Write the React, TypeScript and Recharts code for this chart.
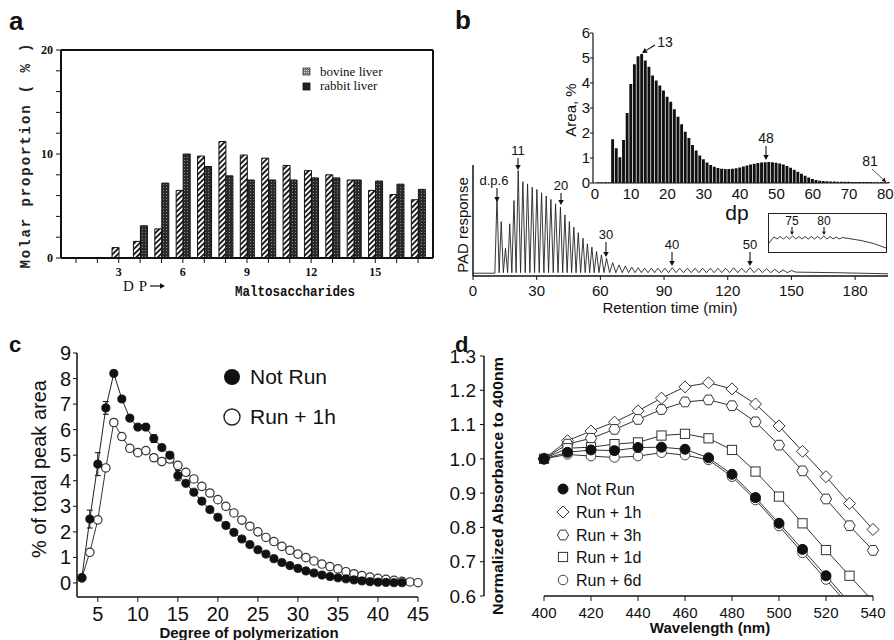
import React from 'react';
import { BarChart, Bar, LineChart, Line, XAxis, YAxis, ErrorBar, ReferenceLine } from 'recharts';

const SANS = '"Liberation Sans", Arial, Helvetica, sans-serif';
const SERIF = '"Liberation Serif", "Times New Roman", serif';
const MONO = '"Liberation Mono", "Courier New", monospace';
const INK = '#111';

// a: molar proportion of maltosaccharides
const dpA = [1, 2, 3, 4, 5, 6, 7, 8, 9, 10, 11, 12, 13, 14, 15, 16, 17];
const bovineLiver = [0, 0, 1.0, 1.6, 2.8, 6.5, 9.8, 11.2, 9.9, 9.6, 8.9, 8.4, 8.0, 7.5, 6.5, 6.1, 5.6];
const rabbitLiver = [0, 0, 0, 3.1, 7.2, 10.0, 8.8, 7.9, 7.5, 7.5, 7.5, 7.7, 7.7, 7.5, 7.4, 7.1, 6.6];
const molarTicks = [0, 2, 4, 6, 8, 10, 12, 14, 16, 18, 20];

// b: HPAEC-PAD trace (dp 6..55), retention times in min, response in arbitrary units
const padTime = [
  11.3, 13.3, 15.3, 17.3, 19.3, 21.3, 23.5, 25.7, 27.9, 30.1,
  32.3, 34.5, 36.7, 38.9, 41.2, 43.3, 45.4, 47.5, 49.6, 51.8,
  53.9, 56.0, 58.2, 60.5, 62.9, 65.8, 68.8, 71.8, 74.8, 77.8,
  80.9, 84.0, 87.1, 90.4, 93.9, 97.4, 101.0, 104.6, 108.2, 111.8,
  115.4, 119.0, 122.8, 126.6, 130.5, 134.4, 138.3, 142.2, 146.1, 150.0,
];
const padHeight = [
  71, 49, 25, 47, 68, 95, 85, 83, 80, 78,
  75, 72, 69, 65, 62, 55, 49, 44, 39, 34,
  29, 26, 22, 19, 16, 12, 10, 9, 8, 7.5,
  7, 7, 7, 7, 7.5, 7, 7, 7, 7, 7,
  7, 7, 7.5, 7, 7.5, 7, 6.5, 6, 5.5, 5,
];
const padBase = 3;
const padLeadTime = [0, 10.3];
const padLeadLevel = [2.5, 2.5];
const padTailTime = [152, 170, 195.5];
const padTailLevel = [3.5, 3, 2];
const timeTicks = [0, 30, 60, 90, 120, 150, 180];

// b inset: area % per dp (dp 1..81)
const areaPct = [
  0.03, 0.03, 0.03, 0.03, 1.75, 1.39, 1.03, 1.72, 2.8, 3.96,
  4.75, 5.07, 5.16, 4.9, 4.65, 4.3, 4.1, 3.9, 3.7, 3.45,
  3.25, 2.95, 2.65, 2.35, 2.05, 1.8, 1.52, 1.3, 1.1, 0.95,
  0.82, 0.72, 0.65, 0.6, 0.57, 0.56, 0.56, 0.57, 0.59, 0.62,
  0.66, 0.7, 0.74, 0.77, 0.8, 0.82, 0.83, 0.84, 0.83, 0.81,
  0.78, 0.74, 0.68, 0.61, 0.53, 0.45, 0.37, 0.29, 0.22, 0.16,
  0.12, 0.09, 0.08, 0.07, 0.06, 0.06, 0.05, 0.05, 0.05, 0.05,
  0.04, 0.04, 0.04, 0.04, 0.04, 0.04, 0.03, 0.03, 0.03, 0.03,
  0.03,
];
const dpTicksB = [0, 10, 20, 30, 40, 50, 60, 70, 80];
const areaTicks = [0, 1, 2, 3, 4, 5, 6];

// b small box: trace around dp 75-80
const zoomLeadDp = [71.2, 71.6];
const zoomLead = [10, 13];
const zoomPeakDp = [72, 73, 74, 75, 76, 77, 78, 79, 80, 81, 82, 83];
const zoomPeak = [16, 16.5, 16.5, 17, 16.5, 16.5, 16.5, 16.5, 17, 16.5, 16, 15.5];
const zoomValley = 14;
const zoomTailDp = [84, 86, 88, 90];
const zoomTail = [14.5, 12.5, 9.5, 5];

// c: % of total peak area vs degree of polymerization (dp 3..45)
const dpC = [
  3, 4, 5, 6, 7, 8, 9, 10, 11, 12, 13, 14, 15, 16, 17, 18, 19, 20, 21, 22, 23, 24,
  25, 26, 27, 28, 29, 30, 31, 32, 33, 34, 35, 36, 37, 38, 39, 40, 41, 42, 43, 44, 45,
];
const notRunC = [
  0.2, 2.5, 4.65, 6.85, 8.2, 7.2, 6.45, 6.1, 6.1, 5.65, 5.3, 5.0, 4.2, 3.9, 3.55, 3.2,
  2.87, 2.57, 2.25, 1.98, 1.72, 1.5, 1.3, 1.13, 0.95, 0.8, 0.68, 0.57, 0.47, 0.39, 0.31,
  0.25, 0.2, 0.16, 0.12, 0.08, 0.05, 0.03, 0.02, 0.01, 0.01, null, null,
];
const notRunErr = [
  0, 0.35, 0.45, 0.25, 0.06, 0.06, 0, 0.1, 0.12, 0.15, 0.08, 0.05, 0.2, 0.08, 0, 0,
  0, 0, 0, 0, 0, 0, 0, 0, 0, 0, 0, 0, 0, 0, 0, 0, 0, 0, 0, 0, 0, 0, 0, 0, 0, 0, 0,
];
const run1hC = [
  0.2, 1.2, 2.47, 4.5, 6.28, 5.73, 5.27, 5.1, 5.18, 4.9, 4.75, 4.85, 4.6, 4.33, 4.07,
  3.78, 3.52, 3.26, 3.0, 2.74, 2.46, 2.22, 2.0, 1.78, 1.62, 1.43, 1.28, 1.13, 0.99,
  0.86, 0.74, 0.64, 0.55, 0.44, 0.36, 0.29, 0.23, 0.18, 0.14, 0.1, 0.06, 0.04, 0.01,
];
const dpTicksC = [5, 10, 15, 20, 25, 30, 35, 40, 45];
const pctTicks = [0, 1, 2, 3, 4, 5, 6, 7, 8, 9];

// d: absorbance normalized to 400 nm
const wavelength = [400, 410, 420, 430, 440, 450, 460, 470, 480, 490, 500, 510, 520, 530, 540];
const notRunD = [1.0, 1.019, 1.026, 1.024, 1.033, 1.034, 1.028, 1.003, 0.955, 0.887, 0.812, 0.736, 0.659, 0.58, null];
const run1hD = [1.0, 1.053, 1.081, 1.107, 1.14, 1.177, 1.21, 1.222, 1.204, 1.16, 1.096, 1.022, 0.948, 0.87, 0.794];
const run3hD = [1.0, 1.043, 1.06, 1.086, 1.115, 1.144, 1.166, 1.172, 1.155, 1.108, 1.04, 0.965, 0.883, 0.805, 0.733];
const run1dD = [1.0, 1.031, 1.034, 1.043, 1.048, 1.068, 1.073, 1.06, 1.026, 0.963, 0.89, 0.812, 0.734, 0.659, 0.585];
const run6dD = [1.0, 1.013, 1.008, 1.004, 1.008, 1.018, 1.011, 0.997, 0.948, 0.88, 0.804, 0.726, 0.648, 0.57, null];
const wlTicks = [400, 420, 440, 460, 480, 500, 520, 540];
const absTicks = [0.6, 0.7, 0.8, 0.9, 1.0, 1.1, 1.2, 1.3];

const hex = (x: number, y: number, r: number) =>
  [0, 60, 120, 180, 240, 300]
    .map((a) => `${x + r * Math.cos((a * Math.PI) / 180)},${y + r * Math.sin((a * Math.PI) / 180)}`)
    .join(' ');

const markD: Record<string, (x: number, y: number) => React.ReactElement> = {
  notRun: (x, y) => <circle cx={x} cy={y} r={5} fill={INK} stroke={INK} strokeWidth={1} />,
  run1h: (x, y) => (
    <polygon points={`${x},${y - 6} ${x + 6},${y} ${x},${y + 6} ${x - 6},${y}`} fill="#fff" stroke="#333" strokeWidth={1} />
  ),
  run3h: (x, y) => <polygon points={hex(x, y, 5.6)} fill="#fff" stroke="#333" strokeWidth={1} />,
  run1d: (x, y) => <rect x={x - 4.6} y={y - 4.6} width={9.2} height={9.2} fill="#fff" stroke="#333" strokeWidth={1} />,
  run6d: (x, y) => <circle cx={x} cy={y} r={4.8} fill="#fff" stroke="#444" strokeWidth={1} />,
};

const markC: Record<string, (x: number, y: number) => React.ReactElement> = {
  notRun: (x, y) => <circle cx={x} cy={y} r={4.1} fill={INK} stroke={INK} strokeWidth={0.8} />,
  run1h: (x, y) => <circle cx={x} cy={y} r={4.2} fill="#fff" stroke="#333" strokeWidth={1.2} />,
};

const dotFrom = (draw: (x: number, y: number) => React.ReactElement) => (p: any) => {
  const { cx, cy, index } = p;
  if (cx == null || cy == null || !Number.isFinite(cx) || !Number.isFinite(cy)) return <g key={`e${index}`} />;
  return <g key={`m${index}`}>{draw(cx, cy)}</g>;
};

function Patterns() {
  return (
    <svg width={0} height={0} style={{ position: 'absolute' }}>
      <defs>
        <pattern id="hatch" width={3.8} height={3.8} patternUnits="userSpaceOnUse" patternTransform="rotate(45)">
          <rect width={3.8} height={3.8} fill="#fff" />
          <rect width={1.8} height={3.8} fill="#111" />
        </pattern>
        <pattern id="stipple" width={3} height={3} patternUnits="userSpaceOnUse">
          <rect width={3} height={3} fill="#2a2a2a" />
          <rect x={1} y={1} width={1} height={1} fill="#888" />
        </pattern>
        <pattern id="stippleLight" width={2} height={2} patternUnits="userSpaceOnUse">
          <rect width={2} height={2} fill="#777" />
          <rect width={1} height={1} fill="#ddd" />
        </pattern>
      </defs>
    </svg>
  );
}

function PanelA() {
  const rows = dpA.map((dp, i) => ({ dp, bovine: bovineLiver[i], rabbit: rabbitLiver[i] }));
  const tick = { fill: INK, fontSize: 12, fontFamily: SERIF, fontWeight: 700 };
  return (
    <div style={{ position: 'absolute', left: 0, top: 0 }}>
      <BarChart width={450} height={320} data={rows} margin={{ top: 50, right: 17, bottom: 32, left: 10 }} barGap={0}>
        <XAxis
          dataKey="dp"
          type="number"
          domain={[0.3, 17.7]}
          ticks={dpA}
          interval={0}
          tickFormatter={(v) => (v % 3 === 0 ? String(v) : '')}
          height={30}
          tickSize={5}
          tickMargin={4}
          tick={tick}
          axisLine={{ stroke: INK, strokeWidth: 2 }}
          tickLine={{ stroke: INK }}
        />
        <YAxis
          type="number"
          domain={[0, 20]}
          ticks={molarTicks}
          interval={0}
          tickFormatter={(v) => (v % 10 === 0 ? String(v) : '')}
          width={51}
          tickSize={5}
          tickMargin={3}
          tick={tick}
          axisLine={{ stroke: INK, strokeWidth: 2 }}
          tickLine={{ stroke: INK }}
        />
        <ReferenceLine y={20} stroke={INK} strokeWidth={2} />
        <ReferenceLine x={17.7} stroke={INK} strokeWidth={2} />
        <Bar dataKey="bovine" fill="url(#hatch)" stroke={INK} strokeWidth={1} barSize={7} isAnimationActive={false} />
        <Bar dataKey="rabbit" fill="url(#stipple)" stroke={INK} strokeWidth={1} barSize={7} isAnimationActive={false} />
      </BarChart>
    </div>
  );
}

function PanelBMain() {
  const rows: { t: number; v: number }[] = [];
  padLeadTime.forEach((t, i) => rows.push({ t, v: padLeadLevel[i] }));
  padTime.forEach((t, i) => {
    rows.push({ t, v: padHeight[i] });
    if (i < padTime.length - 1) rows.push({ t: (t + padTime[i + 1]) / 2, v: padBase });
  });
  padTailTime.forEach((t, i) => rows.push({ t, v: padTailLevel[i] }));
  return (
    <div style={{ position: 'absolute', left: 440, top: 150 }}>
      <LineChart width={454} height={170} data={rows} margin={{ top: 15, right: 6, bottom: 0, left: 0 }}>
        <XAxis
          dataKey="t"
          type="number"
          domain={[0, 195.5]}
          ticks={timeTicks}
          interval={0}
          height={44}
          tickSize={4}
          tickMargin={5}
          tick={{ fill: INK, fontSize: 15, fontFamily: SANS }}
          axisLine={{ stroke: INK, strokeWidth: 1.5 }}
          tickLine={{ stroke: INK }}
        />
        <YAxis type="number" domain={[0, 100]} width={33} tick={false} tickLine={false} axisLine={{ stroke: INK, strokeWidth: 1.5 }} />
        <Line type="linear" dataKey="v" stroke="#222" strokeWidth={0.9} dot={false} activeDot={false} isAnimationActive={false} />
      </LineChart>
    </div>
  );
}

function PanelBInset() {
  const rows = areaPct.map((area, i) => ({ dp: i + 1, area }));
  return (
    <div style={{ position: 'absolute', left: 540, top: 25 }}>
      <BarChart width={354} height={190} data={rows} margin={{ top: 8, right: 5, bottom: 0, left: 23 }}>
        <XAxis
          dataKey="dp"
          type="number"
          domain={[-0.5, 81]}
          ticks={dpTicksB}
          interval={0}
          height={32}
          tickSize={0}
          tickMargin={5}
          tickLine={false}
          tick={{ fill: INK, fontSize: 15, fontFamily: SANS }}
          axisLine={{ stroke: INK, strokeWidth: 1.2 }}
        />
        <YAxis
          type="number"
          domain={[0, 6]}
          ticks={areaTicks}
          interval={0}
          width={30}
          tickSize={3}
          tickMargin={0}
          tick={{ fill: INK, fontSize: 15, fontFamily: SANS }}
          axisLine={{ stroke: INK, strokeWidth: 1.2 }}
          tickLine={{ stroke: INK }}
        />
        <Bar dataKey="area" fill={INK} barSize={2.9} isAnimationActive={false} />
      </BarChart>
    </div>
  );
}

function PanelBZoom() {
  const rows: { dp: number; v: number }[] = [];
  zoomLeadDp.forEach((dp, i) => rows.push({ dp, v: zoomLead[i] }));
  zoomPeakDp.forEach((dp, i) => {
    rows.push({ dp, v: zoomPeak[i] });
    if (i < zoomPeakDp.length - 1) rows.push({ dp: dp + 0.5, v: zoomValley });
  });
  zoomTailDp.forEach((dp, i) => rows.push({ dp, v: zoomTail[i] }));
  return (
    <div style={{ position: 'absolute', left: 768, top: 213, width: 119, height: 40, border: '1px solid #222', boxSizing: 'border-box' }}>
      <LineChart width={117} height={38} data={rows} margin={{ top: 0, right: 0, bottom: 0, left: 0 }}>
        <XAxis dataKey="dp" type="number" domain={[71.2, 90]} hide />
        <YAxis type="number" domain={[1, 39]} hide />
        <Line type="linear" dataKey="v" stroke="#222" strokeWidth={0.9} dot={false} activeDot={false} isAnimationActive={false} />
      </LineChart>
    </div>
  );
}

function PanelC() {
  const rows = dpC.map((dp, i) => ({
    dp,
    notRun: notRunC[i],
    err: notRunErr[i] || undefined,
    run1h: run1hC[i],
  }));
  return (
    <div style={{ position: 'absolute', left: 0, top: 320 }}>
      <LineChart width={450} height={320} data={rows} margin={{ top: 33, right: 32, bottom: 0, left: 0 }}>
        <XAxis
          dataKey="dp"
          type="number"
          domain={[2.4, 45]}
          ticks={dpTicksC}
          interval={0}
          height={43}
          tickSize={5}
          tickMargin={5}
          tick={{ fill: INK, fontSize: 20, fontFamily: SANS }}
          axisLine={{ stroke: INK, strokeWidth: 1.5 }}
          tickLine={{ stroke: INK }}
        />
        <YAxis
          type="number"
          domain={[-0.55, 9]}
          ticks={pctTicks}
          interval={0}
          width={77}
          tickSize={4}
          tickMargin={2}
          tick={{ fill: INK, fontSize: 20, fontFamily: SANS }}
          axisLine={{ stroke: INK, strokeWidth: 1.5 }}
          tickLine={{ stroke: INK }}
        />
        <Line
          type="linear"
          dataKey="run1h"
          stroke="#333"
          strokeWidth={1}
          dot={dotFrom(markC.run1h)}
          activeDot={false}
          isAnimationActive={false}
        />
        <Line
          type="linear"
          dataKey="notRun"
          stroke="#222"
          strokeWidth={1}
          dot={dotFrom(markC.notRun)}
          activeDot={false}
          isAnimationActive={false}
        >
          <ErrorBar dataKey="err" direction="y" width={3} stroke={INK} strokeWidth={1} />
        </Line>
      </LineChart>
    </div>
  );
}

const inPlot = (v: number | null) => (v != null && v >= 0.6 ? v : null);

function PanelD() {
  const rows = wavelength.map((w, i) => ({
    w,
    notRun: notRunD[i],
    run1h: run1hD[i],
    run3h: run3hD[i],
    run1d: run1dD[i],
    run6d: run6dD[i],
    notRunDot: inPlot(notRunD[i]),
    run1hDot: inPlot(run1hD[i]),
    run3hDot: inPlot(run3hD[i]),
    run1dDot: inPlot(run1dD[i]),
    run6dDot: inPlot(run6dD[i]),
  }));
  const order = ['run1h', 'run3h', 'run1d', 'run6d', 'notRun'];
  return (
    <div style={{ position: 'absolute', left: 450, top: 320 }}>
      <LineChart width={444} height={320} data={rows} margin={{ top: 36, right: 21, bottom: 0, left: 29 }}>
        <XAxis
          dataKey="w"
          type="number"
          domain={[400, 540]}
          ticks={wlTicks}
          interval={0}
          height={44}
          tickSize={5}
          tickMargin={6}
          tick={{ fill: INK, fontSize: 15, fontFamily: SANS }}
          axisLine={{ stroke: INK, strokeWidth: 1.5 }}
          tickLine={{ stroke: INK }}
        />
        <YAxis
          yAxisId="main"
          type="number"
          domain={[0.6, 1.3]}
          allowDataOverflow
          ticks={absTicks}
          interval={0}
          tickFormatter={(v) => Number(v).toFixed(1)}
          width={65}
          tickSize={4}
          tickMargin={4}
          tick={{ fill: INK, fontSize: 19, fontFamily: SANS }}
          axisLine={{ stroke: INK, strokeWidth: 1.5 }}
          tickLine={{ stroke: INK }}
        />
        <YAxis yAxisId="dots" type="number" domain={[0.6, 1.3]} hide />
        {order.map((k) => (
          <Line
            key={k}
            yAxisId="main"
            type="linear"
            dataKey={k}
            stroke="#333"
            strokeWidth={1}
            dot={false}
            activeDot={false}
            isAnimationActive={false}
          />
        ))}
        {order.map((k) => (
          <Line
            key={`${k}Dot`}
            yAxisId="dots"
            type="linear"
            dataKey={`${k}Dot`}
            stroke="none"
            dot={dotFrom(markD[k])}
            activeDot={false}
            isAnimationActive={false}
          />
        ))}
      </LineChart>
    </div>
  );
}

function Arrow({ x1, y1, x2, y2, w = 1.1, head = 5 }: { x1: number; y1: number; x2: number; y2: number; w?: number; head?: number }) {
  const a = Math.atan2(y2 - y1, x2 - x1);
  const bx = x2 - head * Math.cos(a);
  const by = y2 - head * Math.sin(a);
  const px = (head * 0.55) * Math.sin(a);
  const py = (head * 0.55) * Math.cos(a);
  return (
    <g>
      <line x1={x1} y1={y1} x2={bx} y2={by} stroke={INK} strokeWidth={w} />
      <polygon points={`${x2},${y2} ${bx + px},${by - py} ${bx - px},${by + py}`} fill={INK} />
    </g>
  );
}

function Overlay() {
  const legendD = [
    { k: 'notRun', label: 'Not Run', y: 489 },
    { k: 'run1h', label: 'Run + 1h', y: 512 },
    { k: 'run3h', label: 'Run + 3h', y: 535 },
    { k: 'run1d', label: 'Run + 1d', y: 557 },
    { k: 'run6d', label: 'Run + 6d', y: 580 },
  ];
  return (
    <svg width={894} height={640} style={{ position: 'absolute', left: 0, top: 0, pointerEvents: 'none' }} fill={INK}>
      {/* panel letters */}
      <text x={9} y={30} fontFamily={SANS} fontWeight={700} fontSize={26}>a</text>
      <text x={455} y={29} fontFamily={SANS} fontWeight={700} fontSize={26}>b</text>
      <text x={9} y={352} fontFamily={SANS} fontWeight={700} fontSize={22}>c</text>
      <text x={455} y={352} fontFamily={SANS} fontWeight={700} fontSize={22}>d</text>

      {/* a */}
      <text transform="translate(30,156) rotate(-90)" textAnchor="middle" fontFamily={MONO} fontWeight={700} fontSize={14} textLength={225} lengthAdjust="spacing" fill="#222">
        Molar proportion ( % )
      </text>
      <text x={123} y={291} fontFamily={SERIF} fontSize={15} textLength={24} lengthAdjust="spacing">DP</text>
      <Arrow x1={150} y1={286} x2={165} y2={286} w={1.2} head={5} />
      <text x={235} y={296} fontFamily={MONO} fontWeight={700} fontSize={14} textLength={120} lengthAdjust="spacingAndGlyphs">
        Maltosaccharides
      </text>
      <rect x={303} y={68} width={7} height={7} fill="url(#stippleLight)" stroke="#333" strokeWidth={0.8} />
      <rect x={303} y={83} width={7} height={7} fill="#222" stroke="#111" strokeWidth={0.8} />
      <text x={320} y={76} fontFamily={SERIF} fontSize={13}>bovine liver</text>
      <text x={320} y={90} fontFamily={SERIF} fontSize={13}>rabbit liver</text>

      {/* b inset labels */}
      <text transform="translate(576,110) rotate(-90)" textAnchor="middle" fontFamily={SANS} fontSize={15}>Area, %</text>
      <text x={737} y={220} textAnchor="middle" fontFamily={SANS} fontSize={21}>dp</text>
      <text x={665} y={47} textAnchor="middle" fontFamily={SANS} fontSize={14}>13</text>
      <Arrow x1={655} y1={45} x2={642} y2={53} />
      <text x={766} y={143} textAnchor="middle" fontFamily={SANS} fontSize={14}>48</text>
      <Arrow x1={766} y1={146} x2={766} y2={160} />
      <text x={870} y={166} textAnchor="middle" fontFamily={SANS} fontSize={14}>81</text>
      <Arrow x1={872} y1={169} x2={886} y2={182} w={0.7} head={4} />

      {/* b main labels */}
      <text transform="translate(468,225) rotate(-90)" textAnchor="middle" fontFamily={SANS} fontSize={15}>PAD response</text>
      <text x={670} y={313} textAnchor="middle" fontFamily={SANS} fontSize={15}>Retention time (min)</text>
      <text x={494} y={185} textAnchor="middle" fontFamily={SANS} fontSize={13}>d.p.6</text>
      <Arrow x1={497} y1={188} x2={497} y2={202} />
      <text x={518} y={155} textAnchor="middle" fontFamily={SANS} fontSize={13}>11</text>
      <Arrow x1={518} y1={158} x2={518} y2={170} />
      <text x={561} y={190} textAnchor="middle" fontFamily={SANS} fontSize={13}>20</text>
      <Arrow x1={561} y1={193} x2={561} y2={205} />
      <text x={606} y={239} textAnchor="middle" fontFamily={SANS} fontSize={13}>30</text>
      <Arrow x1={606} y1={242} x2={606} y2={257} />
      <text x={672} y={249} textAnchor="middle" fontFamily={SANS} fontSize={13}>40</text>
      <Arrow x1={672} y1={252} x2={672} y2={266} />
      <text x={750} y={249} textAnchor="middle" fontFamily={SANS} fontSize={13}>50</text>
      <Arrow x1={750} y1={252} x2={750} y2={266} />
      <text x={792} y={225} textAnchor="middle" fontFamily={SANS} fontSize={12}>75</text>
      <Arrow x1={792} y1={227} x2={792} y2={235} head={3.5} />
      <text x={824} y={225} textAnchor="middle" fontFamily={SANS} fontSize={12}>80</text>
      <Arrow x1={824} y1={227} x2={824} y2={235} head={3.5} />

      {/* c */}
      <text transform="translate(46,469) rotate(-90)" textAnchor="middle" fontFamily={SANS} fontSize={20}>% of total peak area</text>
      <text x={249} y={638} textAnchor="middle" fontFamily={SANS} fontWeight={700} fontSize={15}>Degree of polymerization</text>
      <circle cx={232} cy={377} r={8} fill={INK} />
      <text x={250} y={384} fontFamily={SANS} fontSize={21}>Not Run</text>
      <circle cx={232} cy={417} r={8} fill="#fff" stroke="#222" strokeWidth={1.4} />
      <text x={250} y={424} fontFamily={SANS} fontSize={21}>Run + 1h</text>

      {/* d */}
      <text transform="translate(503,486) rotate(-90)" textAnchor="middle" fontFamily={SANS} fontWeight={700} fontSize={15} textLength={258} lengthAdjust="spacingAndGlyphs">
        Normalized Absorbance to 400nm
      </text>
      <text x={710} y={633} textAnchor="middle" fontFamily={SANS} fontWeight={700} fontSize={15}>Wavelength (nm)</text>
      {legendD.map((it) => (
        <g key={it.k}>
          {markD[it.k](563, it.y)}
          <text x={576} y={it.y + 6} fontFamily={SANS} fontSize={16}>{it.label}</text>
        </g>
      ))}
    </svg>
  );
}

export default function App() {
  return (
    <div style={{ position: 'absolute', left: 0, top: 0, width: 894, height: 640, background: '#fff', overflow: 'hidden' }}>
      <Patterns />
      <PanelA />
      <PanelBMain />
      <PanelBInset />
      <PanelBZoom />
      <PanelC />
      <PanelD />
      <Overlay />
    </div>
  );
}
